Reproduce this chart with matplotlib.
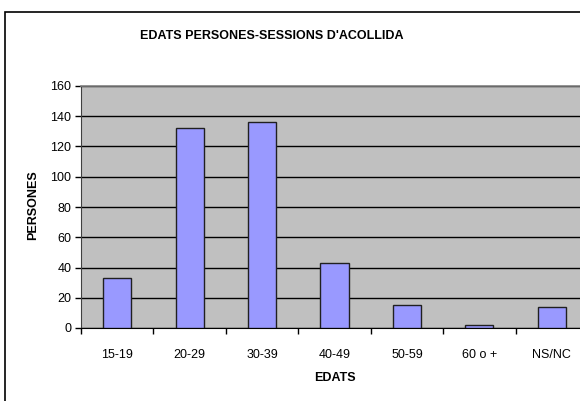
import matplotlib
matplotlib.use("Agg")
import matplotlib.pyplot as plt
from matplotlib.patches import Rectangle

categories = ["15-19", "20-29", "30-39", "40-49", "50-59", "60 o +", "NS/NC"]
values = [33, 132, 136, 43, 15, 2, 14]
yticks = [0, 20, 40, 60, 80, 100, 120, 140, 160]

plt.rcParams['font.family'] = ['Liberation Sans', 'DejaVu Sans']

W, H = 580, 401
fig = plt.figure(figsize=(W / 100, H / 100), dpi=100)
fig.patch.set_facecolor('white')

# outer chart border (extends beyond image at right/bottom)
fig.patches.append(Rectangle((5 / W, -0.05), 1.2, 1 - 12 / H + 0.05,
                             transform=fig.transFigure, fill=False,
                             edgecolor='black', linewidth=1.2, clip_on=False))

left, right, top, bottom = 81, 588, 86, 328
ax = fig.add_axes([left / W, 1 - bottom / H, (right - left) / W, (bottom - top) / H])
ax.set_facecolor('#C0C0C0')

x = list(range(len(categories)))
ax.bar(x, values, width=0.39, color='#9999FF', edgecolor='#202020', linewidth=1.0, zorder=3)

ax.set_xlim(-0.5, len(categories) - 0.5)
ax.set_ylim(0, 160)
ax.set_yticks(yticks)
ax.set_yticklabels([str(v) for v in yticks], fontsize=9)
ax.yaxis.grid(True, color='black', linewidth=1.0, zorder=1)
ax.set_axisbelow(True)

ax.set_xticks([i + 0.5 for i in range(-1, len(categories))], minor=False)
ax.set_xticklabels([''] * (len(categories) + 1))
ax.set_xticks(x, minor=True)
ax.set_xticklabels(categories, minor=True, fontsize=9)
ax.tick_params(axis='x', which='minor', length=0, pad=15)
ax.tick_params(axis='x', which='major', length=4, width=1, color='black', direction='out')
ax.tick_params(axis='y', length=4, width=1, color='black', direction='out', pad=3)

for s in ['top', 'right']:
    ax.spines[s].set_color('#808080')
    ax.spines[s].set_linewidth(1.2)
ax.spines['left'].set_color('#404040')
ax.spines['bottom'].set_color('black')

fig.text(272 / W, 1 - 36 / H, "EDATS PERSONES-SESSIONS D'ACOLLIDA",
         ha='center', va='center', fontsize=9, fontweight='bold')
fig.text(335 / W, 1 - 378 / H, "EDATS", ha='center', va='center',
         fontsize=9, fontweight='bold')
fig.text(33 / W, 1 - 205 / H, "PERSONES", ha='center', va='center',
         rotation=90, fontsize=9, fontweight='bold')

fig.savefig("out.png", dpi=100)
